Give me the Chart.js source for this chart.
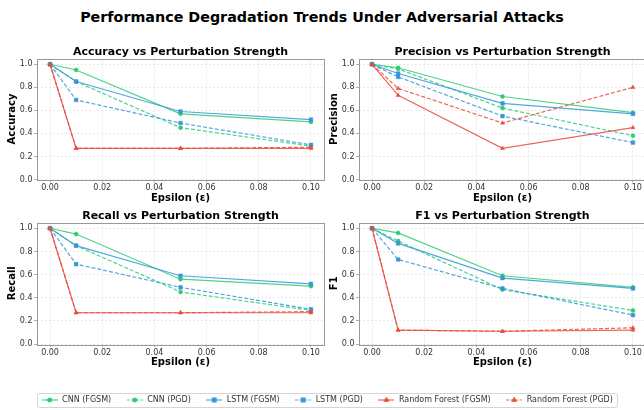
<!DOCTYPE html>
<html>
<head>
<meta charset="utf-8">
<script src="https://cdn.jsdelivr.net/npm/chart.js@4.4.0/dist/chart.umd.min.js"></script>
<style>
  html, body { margin: 0; padding: 0; background: #fff; }
  body { width: 644px; height: 410px; overflow: hidden; position: relative; }
  #suptitle { position: absolute; left: 0; top: 10px; width: 644px; text-align: center;
    font: bold 14.3px "DejaVu Sans"; line-height: 15px; color: #000; }
  canvas { position: absolute; }
</style>
</head>
<body>
<div id="suptitle">Performance Degradation Trends Under Adversarial Attacks</div>
<canvas id="acc"></canvas>
<canvas id="prec"></canvas>
<canvas id="rec"></canvas>
<canvas id="f1"></canvas>
<canvas id="legend"></canvas>
<script>
const epsilons = [0, 0.01, 0.05, 0.1];
const seriesNames = ['CNN (FGSM)', 'CNN (PGD)', 'LSTM (FGSM)', 'LSTM (PGD)', 'Random Forest (FGSM)', 'Random Forest (PGD)'];
const xTicks = [0, 0.02, 0.04, 0.06, 0.08, 0.1];
const yTicks = [0, 0.2, 0.4, 0.6, 0.8, 1.0];

// accuracy
const accCnnFgsm = [1.0, 0.95, 0.57, 0.50];
const accCnnPgd = [1.0, 0.85, 0.45, 0.29];
const accLstmFgsm = [1.0, 0.85, 0.59, 0.52];
const accLstmPgd = [1.0, 0.69, 0.49, 0.30];
const accRfFgsm = [1.0, 0.27, 0.27, 0.27];
const accRfPgd = [1.0, 0.27, 0.27, 0.28];

// precision
const precCnnFgsm = [1.0, 0.97, 0.72, 0.58];
const precCnnPgd = [1.0, 0.96, 0.62, 0.38];
const precLstmFgsm = [1.0, 0.92, 0.66, 0.57];
const precLstmPgd = [1.0, 0.89, 0.55, 0.32];
const precRfFgsm = [1.0, 0.73, 0.27, 0.45];
const precRfPgd = [1.0, 0.79, 0.49, 0.80];

// recall
const recCnnFgsm = [1.0, 0.95, 0.56, 0.50];
const recCnnPgd = [1.0, 0.85, 0.45, 0.29];
const recLstmFgsm = [1.0, 0.85, 0.59, 0.52];
const recLstmPgd = [1.0, 0.69, 0.49, 0.30];
const recRfFgsm = [1.0, 0.27, 0.27, 0.27];
const recRfPgd = [1.0, 0.27, 0.27, 0.28];

// f1
const f1CnnFgsm = [1.0, 0.96, 0.59, 0.49];
const f1CnnPgd = [1.0, 0.89, 0.47, 0.29];
const f1LstmFgsm = [1.0, 0.87, 0.57, 0.48];
const f1LstmPgd = [1.0, 0.73, 0.48, 0.25];
const f1RfFgsm = [1.0, 0.12, 0.11, 0.12];
const f1RfPgd = [1.0, 0.12, 0.11, 0.14];

const FONT = '"DejaVu Sans"';
const colors = ['#2ecc71', '#2ecc71', '#3498db', '#3498db', '#e74c3c', '#e74c3c'];
const lineColors = ['rgba(46,204,113,0.85)', 'rgba(46,204,113,0.85)', 'rgba(52,152,219,0.85)',
  'rgba(52,152,219,0.85)', 'rgba(231,76,60,0.85)', 'rgba(231,76,60,0.85)'];
const markers = ['circle', 'circle', 'rect', 'rect', 'triangle', 'triangle'];
const markerSize = { circle: 2, rect: 2.6, triangle: 2.3 };
const dashes = [[], [4, 2], [], [4, 2], [], [4, 2]];

const frame = {
  id: 'frame',
  afterDatasetsDraw(chart) {
    const a = chart.chartArea, ctx = chart.ctx;
    ctx.save();
    ctx.strokeStyle = '#999';
    ctx.lineWidth = 1;
    ctx.strokeRect(Math.round(a.left) + 0.5, Math.round(a.top) + 0.5,
      Math.round(a.right - a.left), Math.round(a.bottom - a.top));
    ctx.restore();
  }
};

function placeCanvas(el, box) {
  el.width = box.w; el.height = box.h;
  el.style.left = box.x + 'px'; el.style.top = box.y + 'px';
  el.style.width = box.w + 'px'; el.style.height = box.h + 'px';
}

function makePanel(id, box, area, title, yLabel, series) {
  const el = document.getElementById(id);
  placeCanvas(el, box);
  const datasets = series.map((vals, i) => ({
    label: seriesNames[i],
    data: epsilons.map((e, j) => ({ x: e, y: vals[j] })),
    borderColor: lineColors[i],
    backgroundColor: colors[i],
    pointBackgroundColor: colors[i],
    pointBorderColor: colors[i],
    pointBorderWidth: 0.5,
    borderWidth: 1.2,
    borderDash: dashes[i],
    pointStyle: markers[i],
    pointRadius: markerSize[markers[i]],
    tension: 0,
    order: series.length - i
  }));
  new Chart(el, {
    type: 'line',
    data: { datasets },
    plugins: [frame],
    options: {
      responsive: false,
      animation: false,
      layout: { padding: { right: box.x + box.w - area.right, top: 0, left: 0, bottom: 0 } },
      plugins: {
        legend: { display: false },
        tooltip: { enabled: false },
        title: {
          display: true, text: title, color: '#000', fullSize: false,
          font: { family: FONT, size: 11, weight: 'bold', lineHeight: 1.2 },
          padding: { top: 5.5, bottom: area.top - box.y - 13.2 - 5.5 }
        }
      },
      scales: {
        x: {
          type: 'linear', min: -0.005, max: 0.105,
          afterFit(s) { s.height = box.y + box.h - area.bottom; s.paddingLeft = 0; s.paddingRight = 0; },
          afterBuildTicks(s) { s.ticks = xTicks.map(v => ({ value: v })); },
          ticks: { color: '#333', padding: 1, font: { family: FONT, size: 8 },
            callback: v => v.toFixed(2) },
          grid: { color: '#e3e3e3', lineWidth: 0.8, tickLength: 3, tickColor: '#999' },
          border: { display: false, dash: [2, 2] },
          title: { display: true, text: 'Epsilon (ε)', color: '#000',
            font: { family: FONT, size: 10, weight: 'bold', lineHeight: 1.2 },
            padding: { top: 0, bottom: 6 } }
        },
        y: {
          min: 0, max: 1.05,
          afterFit(s) { s.width = area.left - box.x; s.paddingTop = 0; s.paddingBottom = 0; },
          afterBuildTicks(s) { s.ticks = yTicks.map(v => ({ value: v })); },
          ticks: { color: '#333', padding: 1.5, font: { family: FONT, size: 8 },
            callback: v => v.toFixed(1) },
          grid: { color: '#e3e3e3', lineWidth: 0.8, tickLength: 3, tickColor: '#999' },
          border: { display: false, dash: [2, 2] },
          title: { display: true, text: yLabel, color: '#000',
            font: { family: FONT, size: 10, weight: 'bold', lineHeight: 1.2 },
            padding: { top: 6, bottom: 0 } }
        }
      }
    }
  });
}

makePanel('acc', { x: 0, y: 40, w: 332, h: 170 }, { left: 37, top: 58.5, right: 324, bottom: 179.5 },
  'Accuracy vs Perturbation Strength', 'Accuracy',
  [accCnnFgsm, accCnnPgd, accLstmFgsm, accLstmPgd, accRfFgsm, accRfPgd]);
makePanel('prec', { x: 322, y: 40, w: 332, h: 170 }, { left: 359, top: 58.5, right: 646, bottom: 179.5 },
  'Precision vs Perturbation Strength', 'Precision',
  [precCnnFgsm, precCnnPgd, precLstmFgsm, precLstmPgd, precRfFgsm, precRfPgd]);
makePanel('rec', { x: 0, y: 203.5, w: 332, h: 170 }, { left: 37, top: 222, right: 324, bottom: 343.5 },
  'Recall vs Perturbation Strength', 'Recall',
  [recCnnFgsm, recCnnPgd, recLstmFgsm, recLstmPgd, recRfFgsm, recRfPgd]);
makePanel('f1', { x: 322, y: 203.5, w: 332, h: 170 }, { left: 359, top: 222, right: 646, bottom: 343.5 },
  'F1 vs Perturbation Strength', 'F1',
  [f1CnnFgsm, f1CnnPgd, f1LstmFgsm, f1LstmPgd, f1RfFgsm, f1RfPgd]);

// legend samples: short line with marker in the middle
function sample(i) {
  const c = document.createElement('canvas');
  c.width = 16; c.height = 8;
  const ctx = c.getContext('2d');
  ctx.strokeStyle = lineColors[i];
  ctx.lineWidth = 1.2;
  ctx.setLineDash(i % 2 ? [3, 1.5] : []);
  ctx.beginPath(); ctx.moveTo(0, 4); ctx.lineTo(16, 4); ctx.stroke();
  ctx.setLineDash([]);
  ctx.fillStyle = colors[i];
  ctx.strokeStyle = colors[i];
  Chart.helpers.drawPoint(ctx, { pointStyle: markers[i], radius: markerSize[markers[i]], rotation: 0, borderWidth: 0.5 }, 8, 4);
  return c;
}

const legendBorder = {
  id: 'legendBorder',
  afterDraw(chart) {
    const hb = chart.legend.legendHitBoxes;
    if (!hb || !hb.length) return;
    const l = Math.min(...hb.map(h => h.left)) - 4;
    const r = Math.max(...hb.map(h => h.left + h.width)) + 4;
    const t = hb[0].top - 3, b = hb[0].top + hb[0].height + 3;
    const ctx = chart.ctx;
    ctx.save();
    ctx.strokeStyle = '#d5d5d5';
    ctx.lineWidth = 1;
    ctx.beginPath();
    ctx.roundRect(Math.round(l) + 0.5, Math.round(t) + 0.5, Math.round(r - l), Math.round(b - t), 2);
    ctx.stroke();
    ctx.restore();
  }
};

const legEl = document.getElementById('legend');
placeCanvas(legEl, { x: 5, y: 381, w: 644, h: 90 });
new Chart(legEl, {
  type: 'line',
  data: { datasets: seriesNames.map((n, i) => ({ label: n, data: [] })) },
  plugins: [legendBorder],
  options: {
    responsive: false,
    animation: false,
    scales: { x: { display: false }, y: { display: false } },
    plugins: {
      tooltip: { enabled: false },
      legend: {
        display: true, position: 'top',
        labels: {
          usePointStyle: true, pointStyleWidth: 17, padding: 15, color: '#333',
          font: { family: FONT, size: 8 },
          generateLabels: () => seriesNames.map((n, i) => ({
            text: n, pointStyle: sample(i), fillStyle: colors[i], strokeStyle: colors[i],
            lineWidth: 0, hidden: false, datasetIndex: i, fontColor: '#333'
          }))
        }
      }
    }
  }
});
</script>
</body>
</html>
